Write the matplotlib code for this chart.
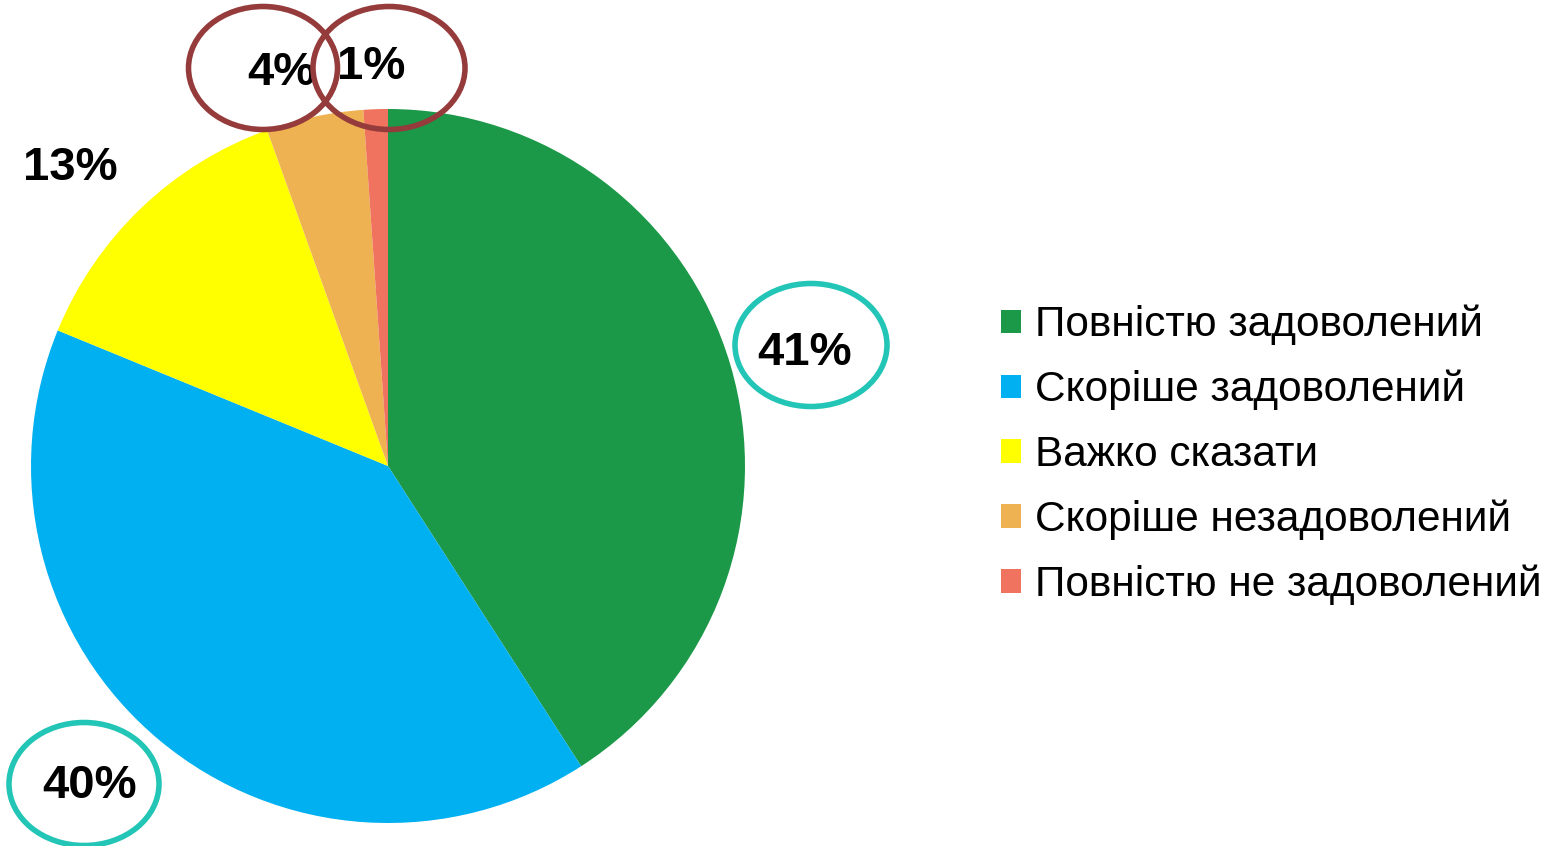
import matplotlib.pyplot as plt
from matplotlib.patches import Ellipse

plt.rcParams['font.family'] = ['Liberation Sans', 'DejaVu Sans']

categories = ['Повністю задоволений', 'Скоріше задоволений', 'Важко сказати',
              'Скоріше незадоволений', 'Повністю не задоволений']
values = [40.9, 40.3, 13.3, 4.4, 1.1]
labels = ['41%', '40%', '13%', '4%', '1%']
colors = ['#1b9848', '#00b0f0', '#ffff00', '#eeb252', '#ef735f']

W, H = 1562, 846
fig = plt.figure(figsize=(W / 100, H / 100), dpi=100)
ax = fig.add_axes([0, 0, 1, 1])

cx, cy, r = 388, H - 466, 357
wedges, _ = ax.pie(values, colors=colors, startangle=90, counterclock=False,
                   center=(cx, cy), radius=r, frame=True)
ax.set_xlim(0, W)
ax.set_ylim(0, H)
ax.set_aspect('equal')
ax.axis('off')

# label positions (pixel coords from top-left)
label_pos = [(805, 353), (90, 786), (70, 168), (281, 73), (371, 67)]
for txt, (x, y) in zip(labels, label_pos):
    ax.text(x, H - y, txt, ha='center', va='center', fontsize=34,
            fontweight='bold', color='black', zorder=5)

# highlight rings
rings = [((811, 345), 152, 123, '#22c5b6'),
         ((84, 784), 150, 123, '#22c5b6'),
         ((263, 68), 149, 123, '#953b3b'),
         ((389, 68), 152, 123, '#953b3b')]
for (x, y), w, h, c in rings:
    ax.add_patch(Ellipse((x, H - y), w, h, fill=False, edgecolor=c,
                         linewidth=4, zorder=6))

ax.legend(wedges, categories, loc='center left',
          bbox_to_anchor=(1001 / W, 1 - 455 / H), frameon=False,
          fontsize=30.5, labelspacing=0.58, handlelength=0.47,
          handleheight=0.47, handletextpad=0.33, borderpad=0,
          borderaxespad=0)

fig.savefig('out.png', dpi=100)
